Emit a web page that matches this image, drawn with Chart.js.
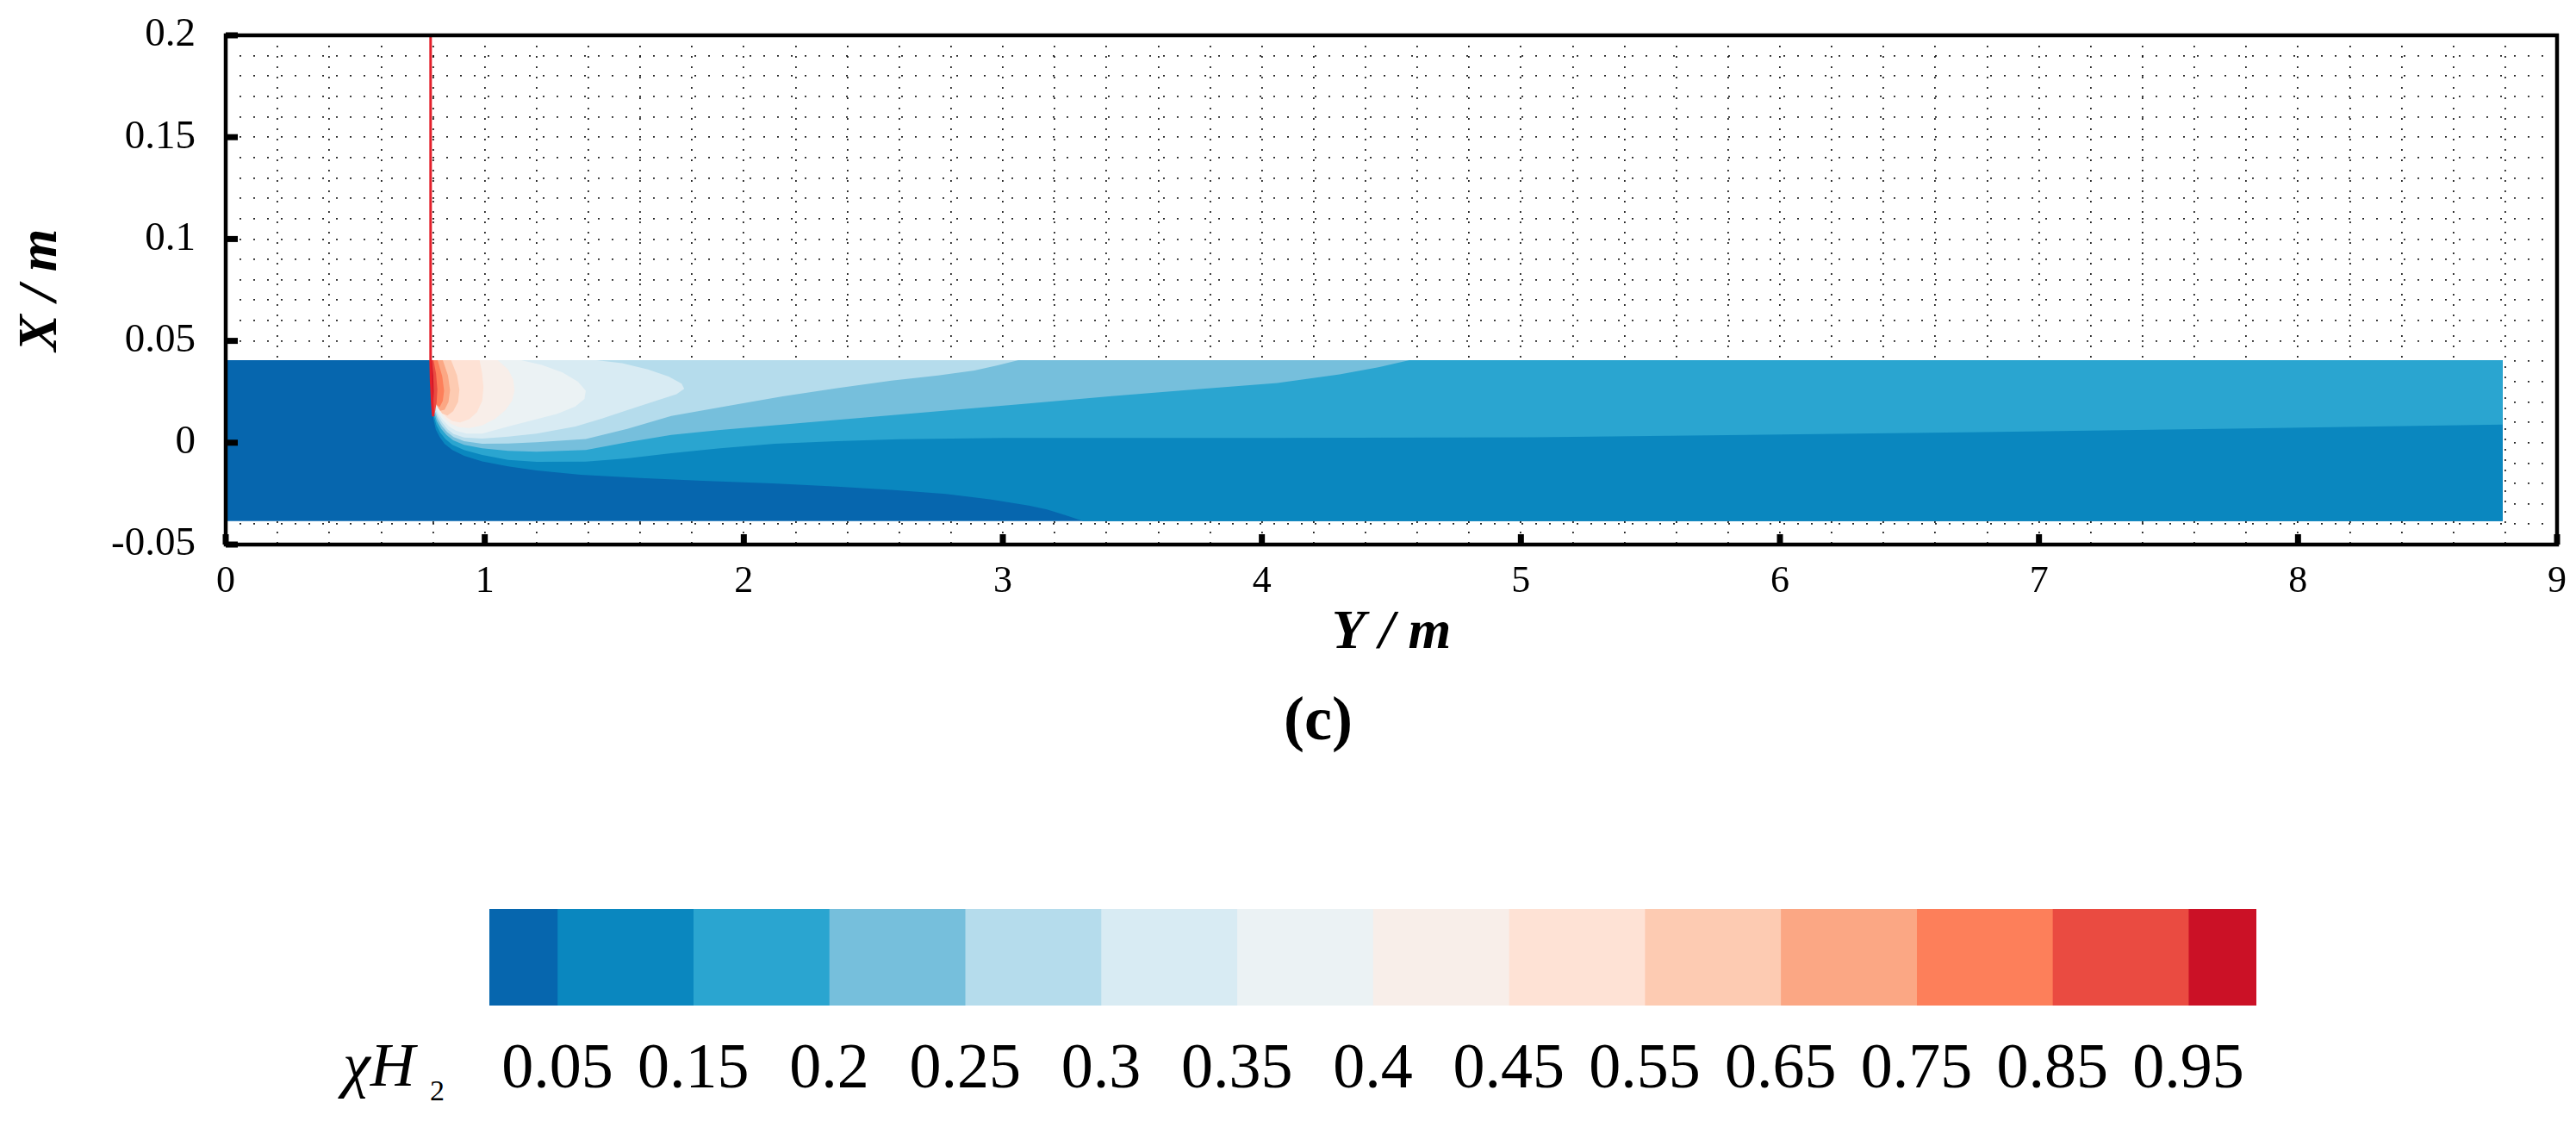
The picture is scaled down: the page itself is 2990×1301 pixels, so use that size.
<!DOCTYPE html>
<html>
<head>
<meta charset="utf-8">
<script src="https://cdn.jsdelivr.net/npm/chart.js@4/dist/chart.umd.min.js"></script>
<style>
html,body{margin:0;padding:0;background:#fff;}
body{width:2990px;height:1301px;position:relative;overflow:hidden;}
#main{position:absolute;left:0;top:0;}
#cbar{position:absolute;left:568px;top:1055px;}
.lbl{position:absolute;font-family:'Liberation Serif',serif;color:#000;white-space:nowrap;line-height:1;}
</style>
</head>
<body>
<canvas id="main" width="2990" height="782"></canvas>
<canvas id="cbar" width="2051" height="224"></canvas>
<div class="lbl" style="left:1430px;width:200px;text-align:center;top:798px;font-size:72px;font-weight:bold;">(c)</div>
<div class="lbl" style="left:398px;top:1200px;font-size:72px;font-style:italic;">χH</div>
<div class="lbl" style="left:499px;top:1249px;font-size:34px;">2</div>
<script>
// ---- colour scale (legend) ----
const levelLabels = ['0.05','0.15','0.2','0.25','0.3','0.35','0.4','0.45','0.55','0.65','0.75','0.85','0.95'];
const bandColors = ['#0666ae','#0a87bf','#2aa5d0','#76bfdc','#b5dcec','#d8ebf3','#ebf2f4','#f8eee9','#fee2d5','#fdcbb2','#fba784','#fd7f5a','#ea4b41','#cb1126'];

// ---- axis tick labels ----
const xTickLabels = ['0','1','2','3','4','5','6','7','8','9'];
const yTickLabels = ['-0.05','0','0.05','0.1','0.15','0.2'];

// ---- filled contour boundaries [Y, X] in metres ----
const domainEdge = [[0,-0.0385],[8.79,-0.0385],[8.79,0.0405],[0,0.0405]];
const edge005 = [[0.788,0.0405],[8.79,0.0405],[8.79,-0.0385],[3.31,-0.0385],[3.24,-0.0355],[3.17,-0.0328],[3.10,-0.0309],[2.95,-0.0278],[2.78,-0.0252],[2.58,-0.0232],[2.36,-0.0216],[2.11,-0.0200],[1.84,-0.0187],[1.60,-0.0173],[1.37,-0.0157],[1.20,-0.0136],[1.09,-0.0116],[0.99,-0.0092],[0.92,-0.0064],[0.875,-0.0036],[0.845,-0.0006],[0.825,0.0030],[0.811,0.0065],[0.802,0.0115],[0.796,0.0180],[0.792,0.0280]];
const edge015 = [[0.788,0.0405],[8.79,0.0405],[8.79,0.0089],[7.80,0.0070],[6.78,0.0052],[5.80,0.0037],[5.05,0.0027],[4.00,0.0024],[3.00,0.0024],[2.60,0.0017],[2.36,0.0008],[2.12,-0.0005],[1.90,-0.0028],[1.72,-0.0052],[1.55,-0.0077],[1.39,-0.0093],[1.20,-0.0094],[1.09,-0.0084],[0.99,-0.0060],[0.92,-0.0036],[0.875,-0.0010],[0.848,0.0018],[0.828,0.0050],[0.813,0.0088],[0.803,0.0135],[0.797,0.0195],[0.793,0.0285]];
const edge020 = [[0.788,0.0405],[4.57,0.0405],[4.45,0.0370],[4.30,0.0335],[4.06,0.0293],[3.75,0.0262],[3.42,0.0229],[3.10,0.0193],[2.78,0.0158],[2.45,0.0122],[2.15,0.0089],[1.90,0.0062],[1.72,0.0038],[1.55,0.0002],[1.39,-0.0036],[1.20,-0.0044],[1.09,-0.0040],[0.99,-0.0027],[0.92,-0.0010],[0.878,0.0012],[0.852,0.0038],[0.832,0.0068],[0.815,0.0105],[0.804,0.0150],[0.798,0.0210],[0.793,0.0290]];
const edge025 = [[0.788,0.0405],[3.06,0.0405],[2.98,0.0380],[2.89,0.0355],[2.75,0.0330],[2.57,0.0305],[2.36,0.0268],[2.15,0.0228],[1.95,0.0183],[1.72,0.0131],[1.55,0.0068],[1.39,0.0018],[1.20,0.0002],[1.09,-0.0004],[0.99,-0.0005],[0.92,0.0008],[0.88,0.0028],[0.855,0.0052],[0.835,0.0082],[0.818,0.0118],[0.806,0.0160],[0.799,0.0220],[0.794,0.0295]];
const edge030 = [[0.788,0.0405],[1.43,0.0405],[1.53,0.0390],[1.63,0.0360],[1.71,0.0325],[1.76,0.0290],[1.77,0.0265],[1.74,0.0238],[1.66,0.0205],[1.55,0.0160],[1.45,0.0118],[1.35,0.0080],[1.20,0.0045],[1.09,0.0030],[0.99,0.0020],[0.92,0.0026],[0.88,0.0042],[0.856,0.0066],[0.837,0.0096],[0.820,0.0130],[0.808,0.0170],[0.800,0.0228],[0.794,0.0300]];
const edge035 = [[0.788,0.0405],[1.14,0.0405],[1.22,0.0382],[1.30,0.0345],[1.36,0.0300],[1.39,0.0255],[1.385,0.0215],[1.35,0.0178],[1.28,0.0142],[1.20,0.0115],[1.09,0.0080],[0.99,0.0045],[0.93,0.0045],[0.89,0.0058],[0.862,0.0080],[0.840,0.0108],[0.823,0.0140],[0.810,0.0178],[0.801,0.0235],[0.795,0.0305]];
const edge040 = [[0.788,0.0405],[1.05,0.0405],[1.09,0.0360],[1.11,0.0310],[1.115,0.0255],[1.105,0.0205],[1.08,0.0160],[1.04,0.0118],[0.99,0.0085],[0.94,0.0072],[0.90,0.0076],[0.87,0.0092],[0.847,0.0118],[0.828,0.0150],[0.813,0.0188],[0.803,0.0240],[0.796,0.0310]];
const edge045 = [[0.788,0.0405],[0.98,0.0405],[0.99,0.0340],[0.995,0.0270],[0.99,0.0205],[0.97,0.0150],[0.94,0.0115],[0.905,0.0100],[0.875,0.0106],[0.852,0.0126],[0.832,0.0156],[0.816,0.0195],[0.805,0.0245],[0.797,0.0315]];
const edge055 = [[0.788,0.0405],[0.87,0.0405],[0.893,0.0330],[0.902,0.0260],[0.897,0.0200],[0.878,0.0155],[0.856,0.0133],[0.836,0.0143],[0.820,0.0172],[0.808,0.0212],[0.800,0.0262],[0.796,0.0330]];
const edge065 = [[0.788,0.0405],[0.838,0.0405],[0.858,0.0330],[0.866,0.0258],[0.860,0.0200],[0.845,0.0162],[0.828,0.0157],[0.815,0.0182],[0.806,0.0222],[0.800,0.0278],[0.796,0.0340]];
const edge075 = [[0.788,0.0405],[0.818,0.0405],[0.836,0.0325],[0.843,0.0255],[0.838,0.0205],[0.826,0.0176],[0.813,0.0186],[0.805,0.0228],[0.799,0.0290],[0.795,0.0350]];
const edge085 = [[0.788,0.0405],[0.802,0.0405],[0.812,0.0340],[0.817,0.0262],[0.814,0.0195],[0.807,0.0145],[0.801,0.0125],[0.797,0.0180],[0.794,0.0270],[0.792,0.0350]];
const edge095 = [[0.788,0.0405],[0.796,0.0405],[0.801,0.0330],[0.803,0.0250],[0.801,0.0180],[0.797,0.0160],[0.794,0.0230],[0.791,0.0330]];
const injectorLine = [[0.791,0.2],[0.791,0.0405],[0.793,0.030],[0.797,0.020],[0.801,0.013]];

const regions = [domainEdge, edge005, edge015, edge020, edge025, edge030, edge035, edge040, edge045, edge055, edge065, edge075, edge085, edge095];

function labelFor(v, labels) {
  const hit = labels.find(l => Math.abs(parseFloat(l) - v) < 1e-7);
  return hit === undefined ? '' : hit;
}

const regionSets = regions.map((pts, k) => ({
  data: pts.map(p => ({x: p[0], y: p[1]})),
  borderWidth: 0,
  borderColor: bandColors[k],
  backgroundColor: bandColors[k],
  fill: 'shape',
  pointRadius: 0,
  tension: 0,
  order: 30 - k
}));
const injectorSet = {
  data: injectorLine.map(p => ({x: p[0], y: p[1]})),
  borderColor: '#e3202b',
  borderWidth: 3,
  fill: false,
  pointRadius: 0,
  tension: 0,
  order: 0
};

const framePlugin = {
  id: 'frame',
  afterDatasetsDraw(chart) {
    const {ctx, chartArea: a} = chart;
    const xs = chart.scales.x, ys = chart.scales.y;
    ctx.save();
    ctx.strokeStyle = '#000';
    ctx.lineWidth = 4.5;
    ctx.strokeRect(a.left, a.top, a.right - a.left, a.bottom - a.top);
    ctx.fillStyle = '#000';
    yTickLabels.forEach(l => {
      const py = ys.getPixelForValue(parseFloat(l));
      ctx.fillRect(a.left, py - 3.5, 14, 7);
    });
    xTickLabels.forEach(l => {
      const px = xs.getPixelForValue(parseFloat(l));
      ctx.fillRect(px - 3.5, a.bottom - 12, 7, 12);
    });
    ctx.restore();
  }
};

const gridColor = 'rgba(0,0,0,0.85)';

new Chart(document.getElementById('main'), {
  type: 'line',
  data: {datasets: [...regionSets, injectorSet]},
  options: {
    responsive: false,
    animation: false,
    devicePixelRatio: 1,
    events: [],
    layout: {padding: {left: 0, top: 41, right: 22, bottom: 0}},
    plugins: {legend: {display: false}, tooltip: {enabled: false}},
    scales: {
      x: {
        type: 'linear', min: 0, max: 9,
        afterFit: s => { s.height = 150; s.paddingLeft = 0; s.paddingRight = 0; },
        ticks: {
          stepSize: 0.2, maxTicksLimit: 100, autoSkip: false, maxRotation: 0, minRotation: 0,
          padding: 17, color: '#000',
          font: {family: 'Liberation Serif', size: 44},
          callback: v => labelFor(v, xTickLabels)
        },
        grid: {color: gridColor, lineWidth: 1.8, drawTicks: false},
        border: {display: false, dash: [2, 10]},
        title: {display: true, text: 'Y / m', color: '#000',
          font: {family: 'Liberation Serif', size: 64, style: 'italic', weight: 'bold'},
          padding: {top: 0, bottom: 8}}
      },
      y: {
        type: 'linear', min: -0.05, max: 0.2,
        afterFit: s => { s.width = 262; s.paddingTop = 0; s.paddingBottom = 0; },
        ticks: {
          stepSize: 0.01, maxTicksLimit: 100, autoSkip: false,
          padding: 35, color: '#000',
          font: {family: 'Liberation Serif', size: 47},
          callback: v => labelFor(v, yTickLabels)
        },
        grid: {color: gridColor, lineWidth: 1.8, drawTicks: false},
        border: {display: false, dash: [2, 14]},
        title: {display: true, text: 'X / m', color: '#000',
          font: {family: 'Liberation Serif', size: 64, style: 'italic', weight: 'bold'},
          padding: {top: 10, bottom: 0}}
      }
    }
  },
  plugins: [framePlugin]
});

new Chart(document.getElementById('cbar'), {
  type: 'bar',
  data: {
    labels: ['χH2'],
    datasets: bandColors.map((c, k) => ({
      data: [[Math.max(k - 1, -0.5), Math.min(k, levelLabels.length - 0.5)]],
      backgroundColor: c,
      borderWidth: 0,
      grouped: false,
      barPercentage: 1,
      categoryPercentage: 1
    }))
  },
  options: {
    indexAxis: 'y',
    responsive: false,
    animation: false,
    devicePixelRatio: 1,
    events: [],
    layout: {padding: 0},
    plugins: {legend: {display: false}, tooltip: {enabled: false}},
    scales: {
      x: {
        type: 'linear', min: -0.5, max: levelLabels.length - 0.5,
        afterBuildTicks: s => { s.ticks = levelLabels.map((_, i) => ({value: i})); },
        afterFit: s => { s.paddingLeft = 0; s.paddingRight = 0; },
        ticks: {autoSkip: false, maxRotation: 0, minRotation: 0, padding: 23, color: '#000',
          font: {family: 'Liberation Serif', size: 74},
          callback: (v, i) => levelLabels[i]},
        grid: {display: false},
        border: {display: false}
      },
      y: {display: false}
    }
  }
});
</script>
</body>
</html>
